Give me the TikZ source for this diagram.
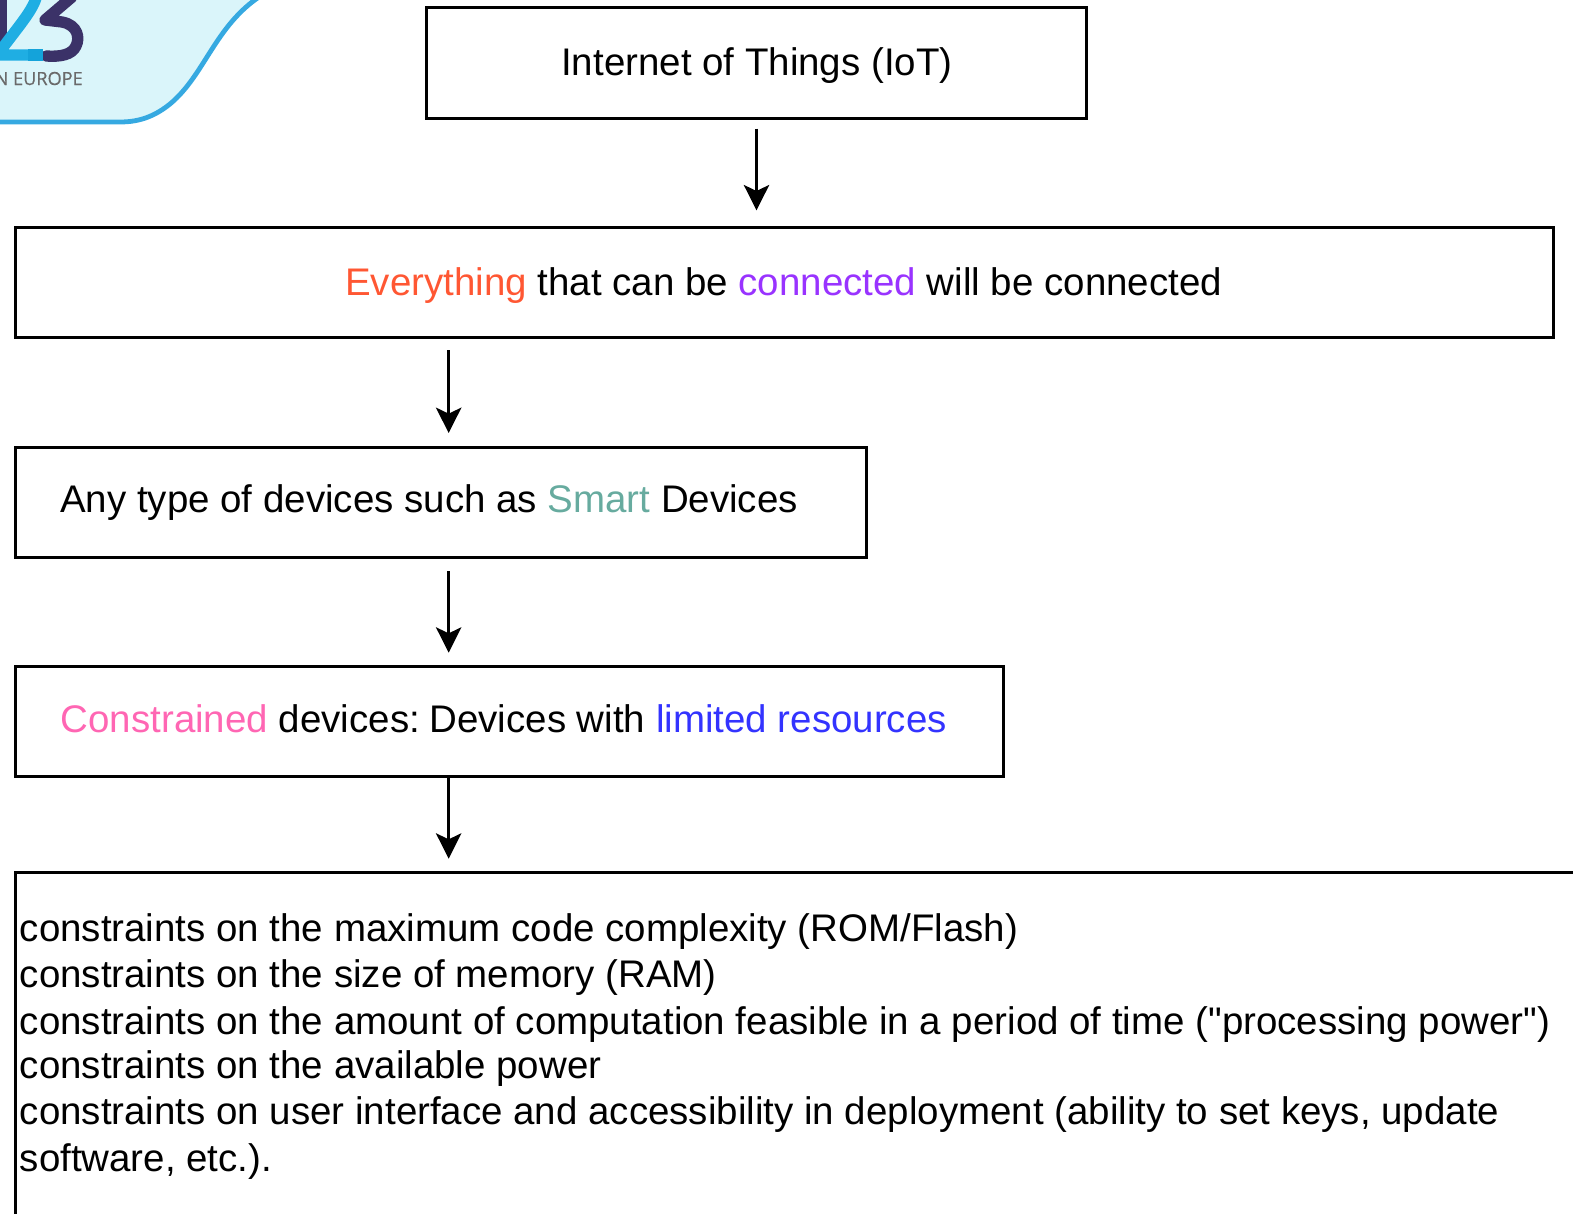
\documentclass[tikz,border=0pt]{standalone}
\usepackage{fontspec}
\setmainfont[Ligatures=TeXOff]{Liberation Sans}
\newfontfamily\logofont[FakeBold=0.5]{Open Sans}
\usetikzlibrary{arrows.meta}
\definecolor{cEvery}{HTML}{FF5733}
\definecolor{cConn}{HTML}{9933FF}
\definecolor{cSmart}{HTML}{67AB9F}
\definecolor{cCons}{HTML}{FF66B3}
\definecolor{cLim}{HTML}{3333FF}
\definecolor{logoFill}{HTML}{DAF5FA}
\definecolor{logoEdge}{HTML}{36A9E1}
\definecolor{logoCyan}{HTML}{1FAEE3}
\definecolor{logoDeep}{HTML}{14A3DA}
\definecolor{logoNavy}{HTML}{3B3268}
\definecolor{logoGrey}{HTML}{6A6A6A}
\tikzset{
  flowbox/.style={draw=black,line width=2.25pt,rectangle,inner sep=0pt,outer sep=0pt,anchor=north west},
  flowtext/.style={inner sep=0pt,anchor=base west,font=\fontsize{28.85}{31}\selectfont,text=black},
  flowarrow/.style={draw=black,line width=2.25pt,-{Stealth[length=19pt,width=19pt,inset=4.5pt]}},
}
\begin{document}
\begin{tikzpicture}[x=0.75pt,y=-0.75pt]
\useasboundingbox (0,0) rectangle (1573,1213);
\clip (0,0) rectangle (1573,1213);
% logo corner
\fill[logoFill] (-5,-5) -- (262,-5) .. controls (215,25) and (205,75) .. (170,104) .. controls (155,116) and (140,122) .. (120,122) -- (-5,122) -- cycle;
\draw[logoEdge,line width=3.6pt] (262,-5) .. controls (215,25) and (205,75) .. (170,104) .. controls (155,116) and (140,122) .. (120,122) -- (-5,122);
\draw[logoNavy,line width=8.5pt,line join=round] (1,-5) -- (1,42);
\draw[logoNavy,line width=8.5pt,line cap=round,line join=round] (72,-3) -- (45,20) -- (62,22) .. controls (78,25) and (80,38) .. (76,46) .. controls (72,55) and (60,57) .. (46,56);
\draw[logoCyan,line width=8.5pt,line join=round] (37,-5) .. controls (33,10) and (22,22) .. (1,50) -- (-3,55) -- (28,55);
\draw[logoDeep,line width=8.5pt] (28,55) -- (43,55);
\node (logotext) [inner sep=0pt,anchor=base east,font=\logofont\fontsize{13.6}{15}\selectfont,text=logoGrey] at (83,85) {N EUROPE};
% boxes
\node (box1) [flowbox,minimum width=495pt,minimum height=82.5pt] at (426.5,8) {};
\node (box2) [flowbox,minimum width=1154pt,minimum height=82.5pt] at (15,227) {};
\node (box3) [flowbox,minimum width=638.5pt,minimum height=82.5pt] at (15,447) {};
\node (box4) [flowbox,minimum width=741.5pt,minimum height=82.5pt] at (15,666) {};
\node (box5) [flowbox,minimum width=1400pt,minimum height=500pt] at (15,872) {};
% texts
\node (t1) [flowtext] at (561,75) {Internet of Things (IoT)};
\node (t2) [flowtext] at (345,295) {\textcolor{cEvery}{Everything} that can be \textcolor{cConn}{connected} will be connected};
\node (t3) [flowtext] at (60,512) {Any type of devices such as \textcolor{cSmart}{Smart} Devices};
\node (t4) [flowtext] at (60.5,732) {\textcolor{cCons}{Constrained} devices:\hspace{-3.5pt} Devices with \textcolor{cLim}{limited resources}};
\node (l1) [flowtext] at (19.5,941) {constraints on the maximum code complexity (ROM/Flash)};
\node (l2) [flowtext] at (19.5,987) {constraints on the size of memory (RAM)};
\node (l3) [flowtext] at (19.5,1034) {constraints on the amount of computation feasible in a period of time ("processing power")};
\node (l4) [flowtext] at (19.5,1078) {constraints on the available power};
\node (l5) [flowtext] at (19.5,1124) {constraints on user interface and accessibility in deployment (ability to set keys, update};
\node (l6) [flowtext] at (19.5,1171) {software, etc.).};
% connectors
\draw[flowarrow,shorten <=8pt,shorten >=12.5pt] (box1.south) -- (box1.south |- box2.north);
\draw[flowarrow,shorten <=10pt,shorten >=10.5pt] ([xshift=6pt]box3.north |- box2.south) -- ([xshift=6pt]box3.north);
\draw[flowarrow,shorten <=10.5pt,shorten >=10pt] ([xshift=6pt]box3.south) -- ([xshift=6pt]box3.south |- box4.north);
\draw[flowarrow,shorten >=10pt] ([xshift=6pt]box3.south |- box4.south) -- ([xshift=6pt]box3.south |- box5.north);
\end{tikzpicture}
\end{document}
